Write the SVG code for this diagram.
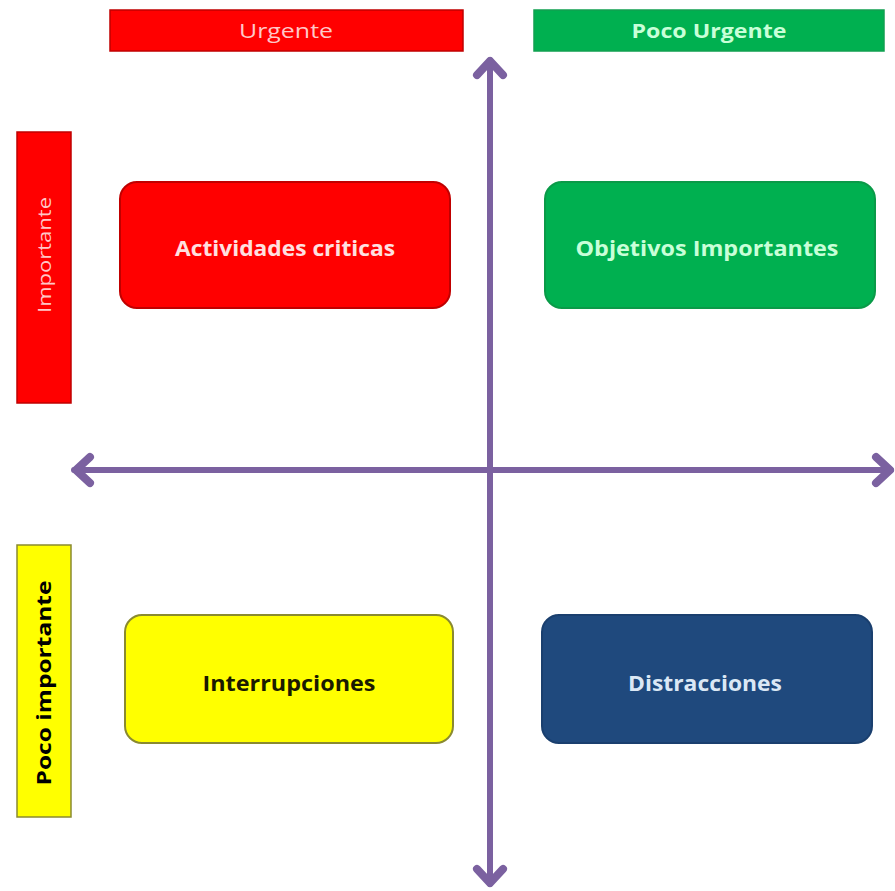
<svg xmlns="http://www.w3.org/2000/svg" width="895" height="891" viewBox="0 0 895 891">
<style>
.lbl{font-family:"Open Sans","Liberation Sans",sans-serif;text-anchor:middle}
.b{font-weight:bold}
.ax{stroke:#7b61a0;stroke-width:6;fill:none;stroke-linecap:round;stroke-linejoin:round}
.hd{stroke:#7b61a0;stroke-width:8;fill:none;stroke-linecap:round;stroke-linejoin:round}
</style>
<rect width="895" height="891" fill="#ffffff"/>
<g id="connectors">
<line class="ax" x1="490" y1="60" x2="490" y2="884"/>
<polyline class="hd" points="477,75 490,61 503,75"/>
<polyline class="hd" points="477,869 490,883 503,869"/>
<line class="ax" x1="74" y1="470" x2="891" y2="470"/>
<polyline class="hd" points="90,457 76,470 90,483"/>
<polyline class="hd" points="876,457 890,470 876,483"/>
</g>
<g id="urgente">
<rect x="110" y="10" width="353" height="41" fill="#ff0000" stroke="#c00000" stroke-width="1.5"/>
<text class="lbl" x="286" y="38" font-size="20" fill="#ffc8c8" textLength="94" lengthAdjust="spacingAndGlyphs">Urgente</text>
</g>
<g id="poco-urgente">
<rect x="534" y="10" width="350" height="41" fill="#00b050" stroke="#10a050" stroke-width="1.5"/>
<text class="lbl b" x="709" y="38" font-size="20" fill="#c8ffd8" textLength="155" lengthAdjust="spacingAndGlyphs">Poco Urgente</text>
</g>
<g id="importante">
<rect x="17" y="132" width="54" height="271" fill="#ff0000" stroke="#c00000" stroke-width="1.5"/>
<text class="lbl" transform="translate(51,255) rotate(-90)" font-size="19" fill="#ffc8c8" textLength="116" lengthAdjust="spacingAndGlyphs">Importante</text>
</g>
<g id="poco-importante">
<rect x="17" y="545" width="54" height="272" fill="#ffff00" stroke="#8a8a30" stroke-width="1.5"/>
<text class="lbl b" transform="translate(51,683) rotate(-90)" font-size="19" fill="#000000" textLength="205" lengthAdjust="spacingAndGlyphs">Poco importante</text>
</g>
<g id="actividades">
<rect x="120" y="182" width="330" height="126" rx="17" fill="#ff0000" stroke="#c00000" stroke-width="2"/>
<text class="lbl b" x="285" y="256" font-size="21" fill="#ffe0e0" textLength="220" lengthAdjust="spacingAndGlyphs">Actividades criticas</text>
</g>
<g id="objetivos">
<rect x="545" y="182" width="330" height="126" rx="17" fill="#00b050" stroke="#0a9a48" stroke-width="2"/>
<text class="lbl b" x="707" y="256" font-size="21" fill="#c8ffd8" textLength="263" lengthAdjust="spacingAndGlyphs">Objetivos Importantes</text>
</g>
<g id="interrupciones">
<rect x="125" y="615" width="328" height="128" rx="17" fill="#ffff00" stroke="#8a8a30" stroke-width="2"/>
<text class="lbl b" x="289" y="691" font-size="21" fill="#1a1a00" textLength="173" lengthAdjust="spacingAndGlyphs">Interrupciones</text>
</g>
<g id="distracciones">
<rect x="542" y="615" width="330" height="128" rx="17" fill="#1f497d" stroke="#1a3f6e" stroke-width="2"/>
<text class="lbl b" x="705" y="691" font-size="21" fill="#dbe8f5" textLength="154" lengthAdjust="spacingAndGlyphs">Distracciones</text>
</g>
</svg>
